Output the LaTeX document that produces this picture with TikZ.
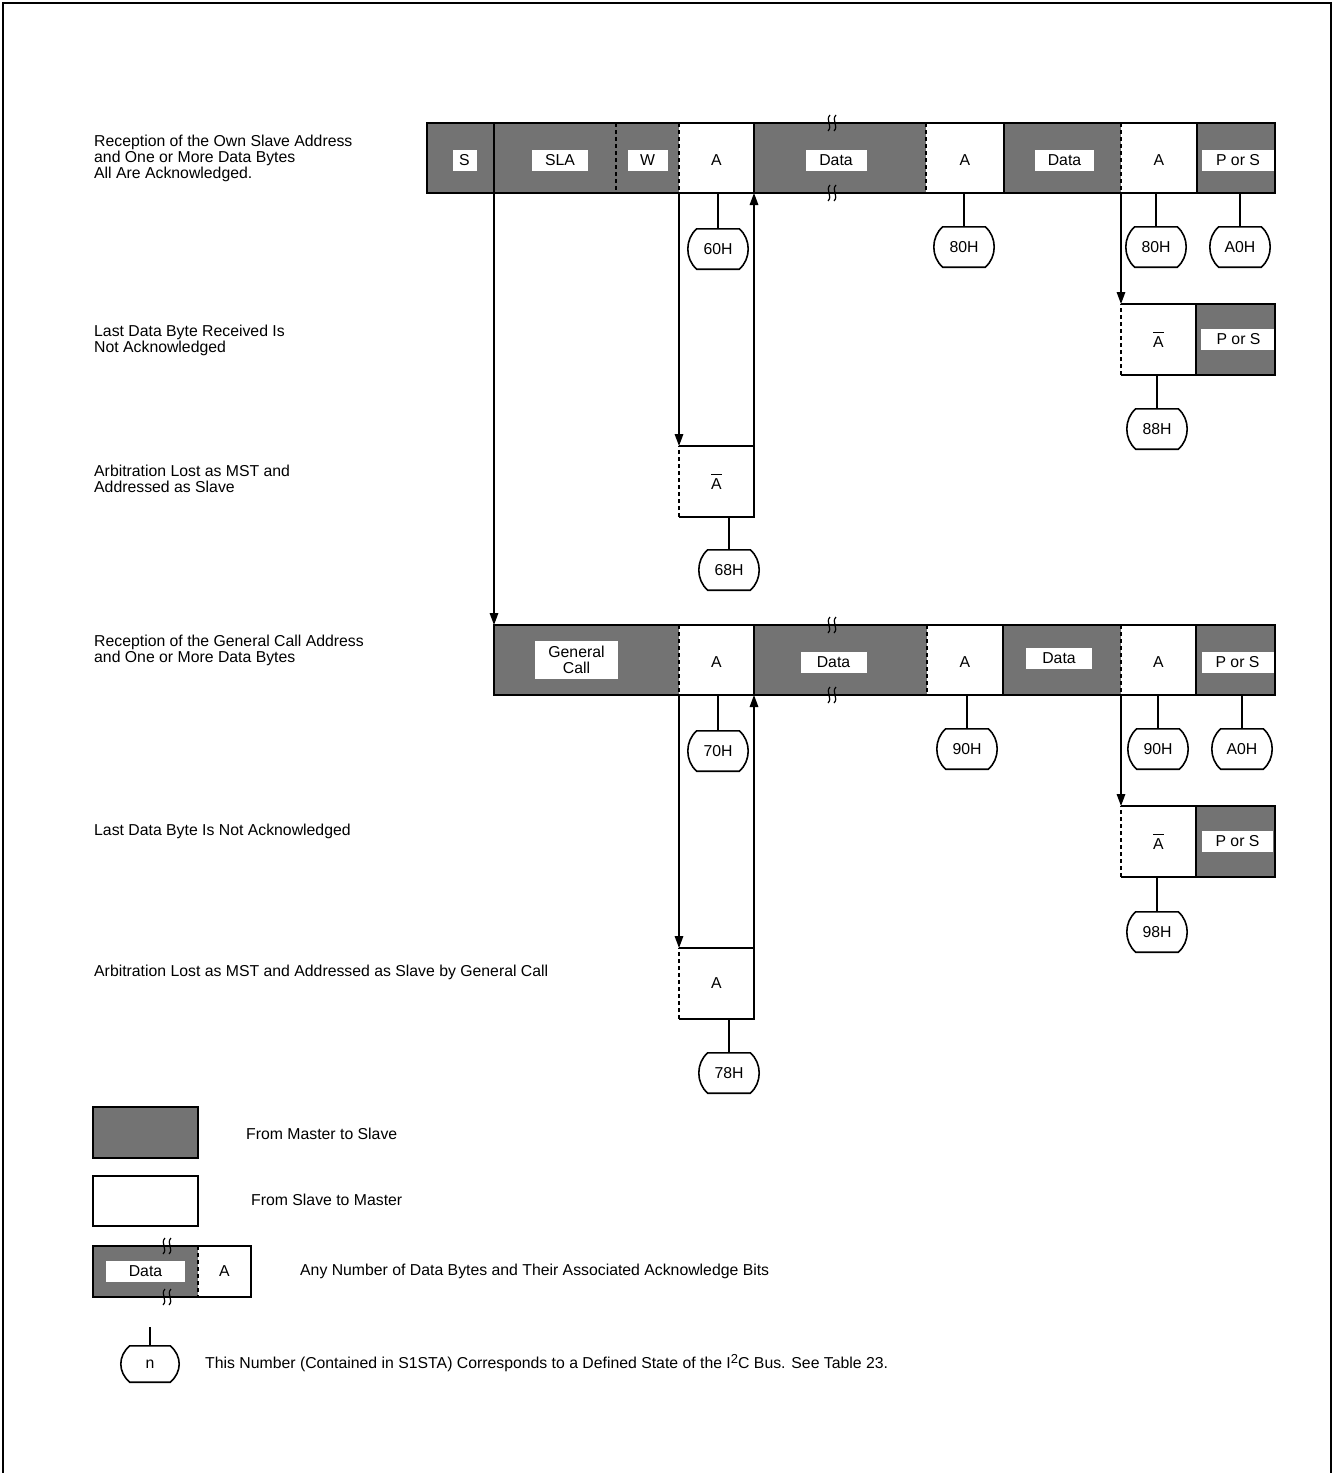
\documentclass[tikz,border=0pt]{standalone}
\usepackage{fontspec}
\setmainfont{Liberation Sans}
\usetikzlibrary{calc,arrows.meta}
\definecolor{busgray}{RGB}{115,115,115}
\newcommand\nack{\rlap{\rule[14.5pt]{10.5pt}{0.9pt}}A}

\tikzset{
  slot/.style={anchor=north west, minimum height=70pt, inner sep=0pt, outer sep=0pt},
  mst/.style={slot, fill=busgray},
  slv/.style={slot, fill=white},
  lbl/.style={fill=white, inner sep=0pt, minimum height=21pt},
  rim/.style={line width=1.6pt},
  dashrim/.style={line width=1.6pt, dash pattern=on 4pt off 3pt},
  flow/.style={line width=1.6pt, -{Triangle[length=12pt,width=8.5pt]}},
  stbox/.style={minimum width=60pt, minimum height=40pt, inner sep=0pt},
  note/.style={anchor=west, align=left, inner sep=0pt},
}

\begin{document}
\begin{tikzpicture}[x=1pt,y=-1pt,font=\fontsize{15.8}{16}\selectfont]
\useasboundingbox (0,0) rectangle (1333,1473);
\draw[line width=2.5pt] (3,1473) -- (3,3) -- (1331,3) -- (1331,1473);

% row texts
\node[note] (t1) at (94,158) {Reception of the Own Slave Address\\and One or More Data Bytes\\All Are Acknowledged.};
\node[note] (t2) at (94,340) {Last Data Byte Received Is\\Not Acknowledged};
\node[note] (t3) at (94,479) {Arbitration Lost as MST and\\Addressed as Slave};
\node[note] (t4) at (94,650) {Reception of the General Call Address\\and One or More Data Bytes};
\node[note] (t5) at (94,831) {Last Data Byte Is Not Acknowledged};
\node[note] (t6) at (94,972) {Arbitration Lost as MST and Addressed as Slave by General Call};

% own slave address
\node[mst, minimum width=67pt]  (r1s)   at (427,123) {};
\node[mst, minimum width=122pt] (r1sla) at (494,123) {};
\node[mst, minimum width=63pt]  (r1w)   at (616,123) {};
\node[slv, minimum width=75pt]  (r1a1)  at (679,123) {};
\node[mst, minimum width=172pt] (r1d1)  at (754,123) {};
\node[slv, minimum width=78pt]  (r1a2)  at (926,123) {};
\node[mst, minimum width=117pt] (r1d2)  at (1004,123) {};
\node[slv, minimum width=76pt]  (r1a3)  at (1121,123) {};
\node[mst, minimum width=78pt]  (r1p)   at (1197,123) {};
\node[lbl, minimum width=24pt] (l1s)   at ($(r1s)+(4,2)$)   {S};
\node[lbl, minimum width=56pt] (l1sla) at ($(r1sla)+(5,2)$) {SLA};
\node[lbl, minimum width=40pt] (l1w)   at ($(r1w)+(0,2)$)   {W};
\node (l1a1) at ($(r1a1)+(0,2)$) {A};
\node[lbl, minimum width=61pt] (l1d1)  at ($(r1d1)+(-4,2)$) {Data};
\node (l1a2) at ($(r1a2)+(0,2)$) {A};
\node[lbl, minimum width=59pt] (l1d2)  at ($(r1d2)+(2,2)$)  {Data};
\node (l1a3) at ($(r1a3)+(0,2)$) {A};
\node[lbl, minimum width=72pt] (l1p)   at ($(r1p)+(2,2)$)   {P or S};

% last byte not acknowledged
\node[slv, minimum width=75pt, minimum height=71pt] (r2a) at (1121,304) {};
\node[mst, minimum width=79pt, minimum height=71pt] (r2p) at (1196,304) {};
\node (l2a) at (r2a) {\nack};
\node[lbl, minimum width=75pt] (l2p) at ($(r2p)+(3,0)$) {P or S};

% arbitration lost
\node[slv, minimum width=75pt, minimum height=71pt] (r3a) at (679,446) {};
\node (l3a) at (r3a) {\nack};

% general call
\node[mst, minimum width=185pt] (r4g)  at (494,625) {};
\node[slv, minimum width=75pt]  (r4a1) at (679,625) {};
\node[mst, minimum width=173pt] (r4d1) at (754,625) {};
\node[slv, minimum width=76pt]  (r4a2) at (927,625) {};
\node[mst, minimum width=118pt] (r4d2) at (1003,625) {};
\node[slv, minimum width=75pt]  (r4a3) at (1121,625) {};
\node[mst, minimum width=79pt]  (r4p)  at (1196,625) {};
\node[lbl, minimum width=83pt, minimum height=38pt, align=center] (l4g) at ($(r4g)+(-10,0)$) {General\\Call};
\node (l4a1) at ($(r4a1)+(0,2)$) {A};
\node[lbl, minimum width=66pt] (l4d1) at ($(r4d1)+(-7,2)$) {Data};
\node (l4a2) at ($(r4a2)+(0,2)$) {A};
\node[lbl, minimum width=66pt] (l4d2) at ($(r4d2)+(-3,-2)$) {Data};
\node (l4a3) at ($(r4a3)+(0,2)$) {A};
\node[lbl, minimum width=72pt] (l4p) at ($(r4p)+(2,2)$) {P or S};

\node[slv, minimum width=75pt, minimum height=71pt] (r5a) at (1121,806) {};
\node[mst, minimum width=79pt, minimum height=71pt] (r5p) at (1196,806) {};
\node (l5a) at (r5a) {\nack};
\node[lbl, minimum width=71pt] (l5p) at ($(r5p)+(2,0)$) {P or S};

\node[slv, minimum width=75pt, minimum height=71pt] (r6a) at (679,948) {};
\node (l6a) at (r6a) {A};

% legend
\node[mst, minimum width=105pt, minimum height=51pt] (g1)  at (93,1107) {};
\node[slv, minimum width=105pt, minimum height=50pt] (g2)  at (93,1176) {};
\node[mst, minimum width=105pt, minimum height=51pt] (g3d) at (93,1246) {};
\node[slv, minimum width=53pt,  minimum height=51pt] (g3a) at (198,1246) {};
\node[lbl, minimum width=79pt] (lg3d) at (g3d) {Data};
\node (lg3a) at (g3a) {A};
\node[note] (tg1) at (246,1134) {From Master to Slave};
\node[note] (tg2) at (251,1200) {From Slave to Master};
\node[note] (tg3) at (300,1271) {Any Number of Data Bytes and Their Associated Acknowledge Bits};
\node[note] (tg4) at (205,1363) {This Number (Contained in S1STA) Corresponds to a Defined State of the I\raisebox{5pt}{\fontsize{13}{13}\selectfont 2}C Bus. See Table 23.};

% outlines
\draw[rim] (r1s.north west) rectangle (r1p.south east);
\draw[rim] (r4g.north west) rectangle (r4p.south east);
\foreach \c in {r1s,r1a1,r1a2,r1a3,r4a1,r4a2,r4a3}
  \draw[rim] (\c.north east) -- (\c.south east);
\foreach \c in {r1sla,r1w,r1d1,r1d2,r4g,r4d1,r4d2}
  \draw[dashrim] (\c.north east) -- (\c.south east);
\foreach \a/\p in {r2a/r2p,r5a/r5p}{
  \draw[rim] (\a.north west) -- (\p.north east) -- (\p.south east) -- (\a.south west);
  \draw[rim] (\a.north east) -- (\a.south east);
  \draw[dashrim] (\a.south west) -- (\a.north west);
}
\foreach \a in {r3a,r6a}{
  \draw[rim] (\a.north west) -- (\a.north east) -- (\a.south east) -- (\a.south west);
  \draw[dashrim] (\a.south west) -- (\a.north west);
}
\draw[rim] (g1.north west) rectangle (g1.south east);
\draw[rim] (g2.north west) rectangle (g2.south east);
\draw[rim] (g3d.north west) rectangle (g3a.south east);
\draw[dashrim] (g3d.north east) -- (g3d.south east);

% break marks
\foreach \bx/\by in {832/123,832/193,832/625,832/695,167/1246,167/1297}
  \foreach \dx in {-3,3}
    \draw[line width=1.2pt] (\bx+\dx+1,\by-8) .. controls (\bx+\dx-4,\by-3) and (\bx+\dx+4,\by+3) .. (\bx+\dx-1,\by+8);

% states
\node[stbox] (s60)  at (718,249)  {60H};
\node[stbox] (s80a) at (964,247)  {80H};
\node[stbox] (s80b) at (1156,247) {80H};
\node[stbox] (sA0a) at (1240,247) {A0H};
\node[stbox] (s88)  at (1157,429) {88H};
\node[stbox] (s68)  at (729,570)  {68H};
\node[stbox] (s70)  at (718,751)  {70H};
\node[stbox] (s90a) at (967,749)  {90H};
\node[stbox] (s90b) at (1158,749) {90H};
\node[stbox] (sA0b) at (1242,749) {A0H};
\node[stbox] (s98)  at (1157,932) {98H};
\node[stbox] (s78)  at (729,1073) {78H};
\node[stbox, minimum width=58pt, minimum height=36pt] (sn) at (150,1364) {n};
\coordinate (ntop) at (150,1327);
\foreach \s in {s60,s80a,s80b,sA0a,s88,s68,s70,s90a,s90b,sA0b,s98,s78,sn}
  \draw[rim] ($(\s.north west)+(9,0)$) -- ($(\s.north east)+(-9,0)$)
    .. controls ($(\s.north east)+(3,10)$) and ($(\s.south east)+(3,-10)$) .. ($(\s.south east)+(-9,0)$)
    -- ($(\s.south west)+(9,0)$)
    .. controls ($(\s.south west)+(-3,-10)$) and ($(\s.north west)+(-3,10)$) .. cycle;
\foreach \s/\c in {s60/r1a1,s80a/r1a2,s80b/r1a3,sA0a/r1p,s88/r2a,s68/r3a,s70/r4a1,s90a/r4a2,s90b/r4a3,sA0b/r4p,s98/r5a,s78/r6a}
  \draw[rim] (\s.north) -- (\s.north |- \c.south);
\draw[rim] (sn.north) -- (ntop);

% transitions
\draw[flow] (r1s.south east) -- (r4g.north west);
\draw[flow] (r1a1.south west) -- (r3a.north west);
\draw[flow] (r3a.north east) -- (r1a1.south east);
\draw[flow] (r1a3.south west) -- (r2a.north west);
\draw[flow] (r4a1.south west) -- (r6a.north west);
\draw[flow] (r6a.north east) -- (r4a1.south east);
\draw[flow] (r4a3.south west) -- (r5a.north west);
\end{tikzpicture}
\end{document}
